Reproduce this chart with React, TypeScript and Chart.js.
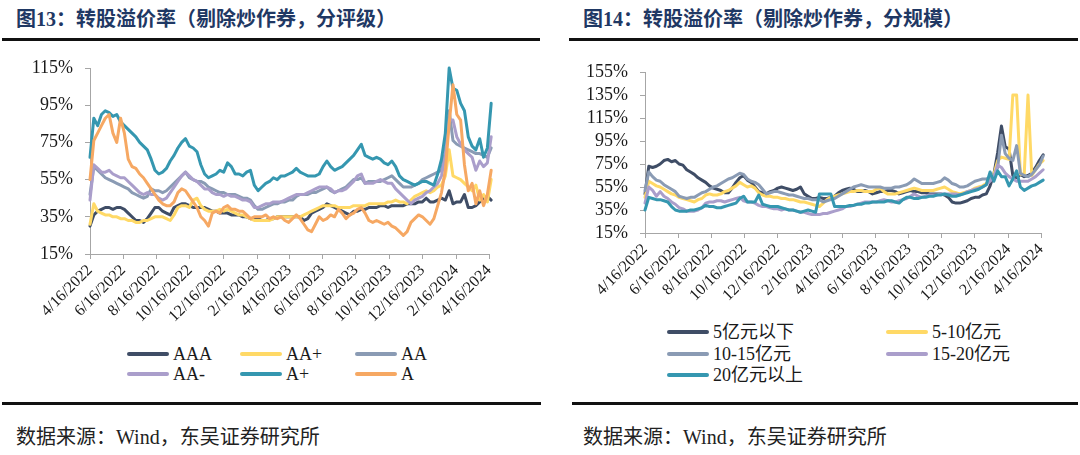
import { useEffect, useRef } from 'react';
import Chart from 'chart.js/auto';

// weekly observations
const dates = [
    '2022-04-16', '2022-04-23', '2022-04-30', '2022-05-07', '2022-05-14', '2022-05-21', '2022-05-28', '2022-06-04', '2022-06-11', '2022-06-18',
    '2022-06-25', '2022-07-02', '2022-07-09', '2022-07-16', '2022-07-23', '2022-07-30', '2022-08-06', '2022-08-13', '2022-08-20', '2022-08-27',
    '2022-09-03', '2022-09-10', '2022-09-17', '2022-09-24', '2022-10-01', '2022-10-08', '2022-10-15', '2022-10-22', '2022-10-29', '2022-11-05',
    '2022-11-12', '2022-11-19', '2022-11-26', '2022-12-03', '2022-12-10', '2022-12-17', '2022-12-24', '2022-12-31', '2023-01-07', '2023-01-14',
    '2023-01-21', '2023-01-28', '2023-02-04', '2023-02-11', '2023-02-18', '2023-02-25', '2023-03-04', '2023-03-11', '2023-03-18', '2023-03-25',
    '2023-04-01', '2023-04-08', '2023-04-15', '2023-04-22', '2023-04-29', '2023-05-06', '2023-05-13', '2023-05-20', '2023-05-27', '2023-06-03',
    '2023-06-10', '2023-06-17', '2023-06-24', '2023-07-01', '2023-07-08', '2023-07-15', '2023-07-22', '2023-07-29', '2023-08-05', '2023-08-12',
    '2023-08-19', '2023-08-26', '2023-09-02', '2023-09-09', '2023-09-16', '2023-09-23', '2023-09-30', '2023-10-07', '2023-10-14', '2023-10-21',
    '2023-10-28', '2023-11-04', '2023-11-11', '2023-11-18', '2023-11-25', '2023-12-02', '2023-12-09', '2023-12-16', '2023-12-23', '2023-12-30',
    '2024-01-06', '2024-01-13', '2024-01-20', '2024-01-27', '2024-02-03', '2024-02-10', '2024-02-17', '2024-02-24', '2024-03-02', '2024-03-09',
    '2024-03-16', '2024-03-23', '2024-03-30', '2024-04-06', '2024-04-13', '2024-04-20'
];

const tickDates = [
    '2022-04-16', '2022-06-16', '2022-08-16', '2022-10-16', '2022-12-16', '2023-02-16', '2023-04-16',
    '2023-06-16', '2023-08-16', '2023-10-16', '2023-12-16', '2024-02-16', '2024-04-16'
];
const tickLabels = [
    '4/16/2022', '6/16/2022', '8/16/2022', '10/16/2022', '12/16/2022', '2/16/2023', '4/16/2023',
    '6/16/2023', '8/16/2023', '10/16/2023', '12/16/2023', '2/16/2024', '4/16/2024'
];

// 图13 by rating (%)
const ratingNames = ['AAA', 'AA+', 'AA', 'AA-', 'A+', 'A'];
const aaa = [
    30, 36, 38, 39, 40, 40, 39, 40, 40, 39, 37, 35, 33, 33, 32, 34, 37, 40, 40, 38,
    37, 36, 40, 41, 42, 42, 41, 40, 40, 40, 40, 39, 38, 38, 37, 37, 37, 36, 36, 36,
    35, 35, 34, 34, 34, 33, 33,
    34, 34, 35, 35, 35, 35, 35, 35, 35, 33, 34, 37, 38, 39, 40, 42, 41, 40, 39, 38,
    37, 36, 38, 38, 39, 39, 40, 40, 40, 41, 41, 40, 41, 41, 41, 41, 42, 42, 42, 43,
    43, 45, 43, 43, 44, 45, 44, 49, 42, 43, 43, 47, 40, 40, 41, 43, 45, 46, 44
];
const aaPlus = [
    31, 42, 38, 37, 36, 36, 35, 35, 34, 34, 33, 33, 32, 32, 33, 33, 34, 35, 35, 35,
    34, 33, 36, 40, 41, 41, 40, 44, 45, 41, 39, 38, 38, 38, 39, 38, 39, 38, 37, 36,
    36, 35, 34, 33, 33, 33, 33,
    33, 34, 35, 35, 35, 35, 35, 35, 35, 36, 37, 38, 39, 40, 41, 41, 41, 41, 40, 40,
    40, 40, 41, 41, 41, 41, 42, 42, 42, 42, 42, 43, 43, 44, 43, 43, 42, 44, 46, 47,
    48, 49, 48, 49, 51, 52, 57, 71, 57, 56, 55, 53, 51, 49, 52, 44, 47, 43, 55
];
const aa = [
    47, 62, 60, 58, 56, 55, 54, 53, 52, 51, 50, 48, 47, 46, 45, 46, 50, 49, 49, 48,
    49, 51, 53, 55, 57, 59, 56, 55, 54, 54, 53, 51, 50, 49, 48, 48, 47, 47, 47, 46,
    45, 45, 44, 41, 39, 39, 40,
    41, 42, 42, 43, 43, 44, 44, 46, 47, 47, 47, 48, 48, 49, 50, 51, 49, 48, 49, 50,
    51, 53, 55, 55, 56, 53, 54, 54, 54, 54, 55, 56, 57, 55, 53, 51, 51, 51, 52, 53,
    55, 56, 57, 58, 59, 60, 70, 92, 76, 74, 73, 72, 71, 70, 69, 69, 68, 67, 72
];
const aaMinus = [
    44, 63, 61, 59, 59, 60, 58, 57, 56, 56, 54, 52, 50, 48, 47, 48, 47, 47, 45, 44,
    45, 48, 51, 54, 57, 59, 57, 55, 54, 52, 50, 50, 48, 47, 47, 46, 47, 46, 46, 45,
    44, 44, 43, 40, 40, 41, 42,
    42, 43, 43, 43, 44, 45, 46, 47, 47, 47, 48, 49, 50, 51, 51, 51, 50, 48, 49, 49,
    50, 52, 54, 57, 58, 53, 53, 53, 54, 55, 54, 53, 53, 50, 48, 46, 44, 42, 44, 45,
    46, 48, 49, 51, 53, 57, 68, 87, 87, 78, 74, 71, 69, 67, 60, 65, 62, 64, 78
];
const aPlus = [
    67, 88, 84, 90, 92, 91, 89, 90, 86, 84, 82, 80, 78, 75, 73, 71, 66, 60, 58, 59,
    61, 65, 68, 72, 75, 77, 73, 72, 70, 63, 58, 56, 57, 58, 60, 59, 64, 62, 58, 58,
    57, 59, 60, 52, 49, 51, 53,
    54, 56, 55, 57, 57, 58, 59, 61, 59, 58, 57, 57, 57, 58, 62, 65, 62, 60, 61, 62,
    64, 66, 68, 71, 74, 68, 67, 66, 67, 66, 64, 63, 65, 62, 57, 55, 54, 53, 52, 53,
    54, 54, 53, 52, 58, 66, 80, 115, 104, 103, 96, 92, 78, 73, 71, 77, 67, 72, 96
];
const aRating = [
    55, 76, 80, 84, 88, 90, 80, 75, 88, 80, 66, 62, 61, 58, 56, 53, 50, 47, 44, 42,
    41, 41, 43, 48, 50, 49, 46, 43, 40, 35, 33, 30, 37, 38, 37, 40, 41, 39, 39, 38,
    38, 36, 34, 35, 35, 35, 36,
    34, 35, 34, 35, 33, 32, 34, 36, 34, 31, 28, 27, 31, 35, 33, 34, 36, 35, 39, 37,
    34, 36, 37, 39, 40, 37, 33, 32, 33, 32, 31, 32, 30, 29, 27, 25, 27, 32, 34, 36,
    35, 33, 31, 34, 41, 48, 60, 85, 106, 90, 87, 63, 49, 53, 42, 49, 41, 47, 60
];

// 图14 by issue size (%)
const sizeNames = ['5亿元以下', '5-10亿元', '10-15亿元', '15-20亿元', '20亿元以上'];
const sizeUnder5 = [
    49, 73, 72, 73, 75, 78, 79, 77, 78, 75, 74, 70, 68, 66, 63, 61, 59, 56, 54, 53,
    52, 50, 50, 54, 59, 63, 65, 61, 59, 55, 51, 50, 49, 51, 52, 54, 55, 54, 53, 52,
    53, 55, 49, 47, 45, 45, 46,
    45, 45, 46, 47, 50, 52, 53, 54, 53, 51, 51, 52, 51, 49, 50, 51, 51, 52, 52, 51,
    49, 50, 51, 52, 51, 51, 50, 50, 49, 49, 49, 49, 48, 46, 42, 41, 41, 42, 43, 45,
    46, 46, 48, 49, 56, 66, 85, 108, 90, 88, 65, 63, 66, 64, 65, 67, 72, 78, 83
];
const size5to10 = [
    46, 60, 58, 56, 55, 53, 51, 49, 48, 46, 45, 44, 43, 42, 44, 45, 48, 49, 48, 48,
    49, 51, 52, 54, 56, 59, 57, 55, 56, 54, 50, 48, 47, 47, 46, 46, 45, 45, 44, 44,
    43, 42, 42, 41, 40, 39, 38,
    41, 44, 46, 47, 48, 49, 50, 51, 51, 52, 52, 51, 51, 51, 53, 54, 51, 49, 49, 49,
    50, 51, 52, 53, 54, 53, 52, 52, 52, 52, 53, 54, 55, 53, 51, 50, 49, 50, 51, 52,
    54, 55, 56, 58, 62, 66, 78, 81, 80, 79, 135, 135, 66, 66, 135, 65, 70, 75, 78
];
const size10to15 = [
    52, 68, 64, 61, 60, 57, 55, 53, 51, 47, 46, 45, 46, 46, 48, 50, 51, 53, 55, 56,
    58, 60, 62, 63, 65, 67, 66, 62, 60, 59, 57, 53, 49, 50, 51, 51, 50, 49, 48, 48,
    47, 46, 45, 45, 44, 44, 44,
    42, 43, 44, 45, 47, 49, 51, 53, 55, 56, 57, 56, 55, 55, 55, 55, 54, 54, 54, 55,
    55, 56, 57, 59, 62, 60, 58, 58, 58, 58, 59, 60, 63, 61, 58, 57, 55, 55, 56, 58,
    60, 61, 62, 62, 63, 64, 72, 100, 84, 80, 78, 91, 67, 65, 64, 66, 70, 74, 82
];
const size15to20 = [
    41, 55, 52, 47, 51, 47, 45, 42, 40, 37, 36, 34, 34, 34, 35, 37, 41, 42, 42, 43,
    43, 42, 43, 44, 45, 46, 43, 42, 42, 41, 39, 38, 38, 37, 36, 36, 35, 36, 35, 35,
    34, 33, 33, 32, 31, 31, 31,
    32, 32, 33, 34, 35, 36, 38, 38, 39, 40, 41, 42, 42, 42, 42, 43, 44, 43, 42, 42,
    43, 44, 45, 47, 49, 47, 46, 47, 48, 48, 48, 49, 49, 49, 49, 49, 48, 49, 51, 52,
    53, 54, 55, 57, 60, 64, 74, 72, 67, 64, 62, 60, 60, 60, 60, 62, 64, 67, 70
];
const sizeOver20 = [
    35, 46, 45, 44, 44, 43, 42, 38, 35, 34, 34, 34, 35, 35, 36, 37, 39, 38, 38, 37,
    37, 38, 39, 40, 41, 45, 47, 42, 42, 42, 48, 40, 39, 38, 38, 38, 37, 36, 35, 35,
    34, 33, 34, 35, 34, 33, 49,
    49, 49, 49, 38, 38, 38, 38, 39, 39, 40, 40, 41, 41, 42, 42, 42, 42, 43, 43, 42,
    41, 44, 46, 46, 45, 45, 46, 46, 47, 47, 48, 48, 49, 48, 47, 47, 48, 49, 50, 51,
    52, 53, 55, 57, 68, 60, 69, 64, 64, 56, 62, 69, 55, 52, 54, 56, 57, 59, 61
];

const palette = ['#3F4D66', '#FFD966', '#8A9BB4', '#AA9ECB', '#3597B0', '#F6A863'];

const serif = "'Liberation Serif', 'Times New Roman', 'Noto Sans CJK SC', serif";
const axisGray = '#A6A6A6';

const dayOf = (d: string) => (Date.parse(d) - Date.parse(dates[0])) / 86400000;
const days = dates.map(dayOf);
const tickDays = tickDates.map(dayOf);

interface Series {
    name: string;
    values: number[];
    color: string;
}

interface PanelProps {
    series: Series[];
    yMax: number;
    left: number;
    top: number;
    width: number;
    height: number;
    padding: { left: number; right: number; top: number; bottom: number };
}

function LinePanel({ series, yMax, left, top, width, height, padding }: PanelProps) {
    const canvasRef = useRef<HTMLCanvasElement>(null);

    useEffect(() => {
        if (!canvasRef.current) return;
        const n = series.length;
        const chart = new Chart(canvasRef.current, {
            type: 'line',
            data: {
                datasets: series.map((s, i) => ({
                    label: s.name,
                    data: days.map((d, j) => ({ x: d, y: s.values[j] })),
                    borderColor: s.color,
                    backgroundColor: s.color,
                    borderWidth: 3,
                    borderJoinStyle: 'round' as const,
                    borderCapStyle: 'round' as const,
                    pointRadius: 0,
                    tension: 0,
                    clip: false as const,
                    order: n - i
                }))
            },
            options: {
                animation: false,
                responsive: false,
                maintainAspectRatio: false,
                layout: { padding },
                plugins: {
                    legend: { display: false },
                    tooltip: { enabled: false }
                },
                scales: {
                    x: {
                        type: 'linear',
                        min: 0,
                        max: tickDays[tickDays.length - 1],
                        afterBuildTicks: (scale: any) => {
                            scale.ticks = tickDays.map((v) => ({ value: v }));
                        },
                        afterFit: (scale: any) => {
                            scale.height = 80;
                        },
                        ticks: {
                            autoSkip: false,
                            minRotation: 45,
                            maxRotation: 45,
                            padding: 2,
                            color: '#1a1a1a',
                            font: { family: serif, size: 16 },
                            callback: (_v: any, i: number) => tickLabels[i]
                        },
                        grid: { drawOnChartArea: false, drawTicks: true, tickLength: 5, color: axisGray },
                        border: { color: axisGray }
                    },
                    y: {
                        min: 15,
                        max: yMax,
                        afterFit: (scale: any) => {
                            scale.width = 60;
                        },
                        ticks: {
                            autoSkip: false,
                            stepSize: 20,
                            padding: 12,
                            color: '#1a1a1a',
                            font: { family: serif, size: 18 },
                            callback: (v: any) => v + '%'
                        },
                        grid: { drawOnChartArea: false, drawTicks: true, tickLength: 5, color: axisGray },
                        border: { color: axisGray }
                    }
                }
            }
        });

        return () => {
            chart.destroy();
        };
    }, [series, yMax]);

    return (
        <canvas
            ref={canvasRef}
            width={width}
            height={height}
            style={{ position: 'absolute', left, top, width: `${width}px`, height: `${height}px` }}
        />
    );
}

function LegendItem({ x, y, color, label }: { x: number; y: number; color: string; label: string }) {
    return (
        <div style={{ position: 'absolute', left: x, top: y, transform: 'translateY(-50%)', display: 'flex', alignItems: 'center', whiteSpace: 'nowrap' }}>
            <span style={{ display: 'inline-block', width: 42, height: 4, borderRadius: 2, background: color }} />
            <span style={{ marginLeft: 4, font: `18px ${serif}`, color: '#1a1a1a', lineHeight: '20px' }}>{label}</span>
        </div>
    );
}

const ratingSeries: Series[] = [aaa, aaPlus, aa, aaMinus, aPlus, aRating].map((values, i) => ({
    name: ratingNames[i],
    values,
    color: palette[i]
}));
const sizeSeries: Series[] = [sizeUnder5, size5to10, size10to15, size15to20, sizeOver20].map((values, i) => ({
    name: sizeNames[i],
    values,
    color: palette[i]
}));

const ratingLegendSpots = [[127, 354], [240, 354], [355, 354], [127, 374], [240, 374], [355, 374]];
const sizeLegendSpots = [[667, 332], [886, 332], [667, 354], [886, 354], [667, 375]];

const titleStyle = {
    position: 'absolute' as const,
    top: 8,
    font: `bold 20px ${serif}`,
    color: '#1F3864',
    lineHeight: '22px',
    whiteSpace: 'nowrap' as const
};
const footStyle = {
    position: 'absolute' as const,
    top: 426,
    font: `20px ${serif}`,
    color: '#222',
    lineHeight: '22px',
    whiteSpace: 'nowrap' as const
};
const rule = (left: number, width: number, top: number) => (
    <div style={{ position: 'absolute', left, width, top, height: 3, background: '#111' }} />
);

export default function App() {
    return (
        <div style={{ position: 'absolute', left: 0, top: 0, width: 1080, height: 455, background: '#fff', overflow: 'hidden' }}>
            <div style={{ ...titleStyle, left: 16 }}>图13：转股溢价率（剔除炒作券，分评级）</div>
            <div style={{ ...titleStyle, left: 583 }}>图14：转股溢价率（剔除炒作券，分规模）</div>
            {rule(2, 538, 38)}
            {rule(569, 509, 38)}

            <LinePanel
                series={ratingSeries}
                yMax={115}
                left={0}
                top={40}
                width={510}
                height={294}
                padding={{ left: 30, right: 21, top: 28, bottom: 0 }}
            />
            <LinePanel
                series={sizeSeries}
                yMax={155}
                left={555}
                top={40}
                width={506}
                height={273}
                padding={{ left: 30, right: 20, top: 32, bottom: 0 }}
            />

            {ratingSeries.map((s, i) => (
                <LegendItem key={s.name} x={ratingLegendSpots[i][0]} y={ratingLegendSpots[i][1]} color={s.color} label={s.name} />
            ))}
            {sizeSeries.map((s, i) => (
                <LegendItem key={s.name} x={sizeLegendSpots[i][0]} y={sizeLegendSpots[i][1]} color={s.color} label={s.name} />
            ))}

            {rule(2, 539, 402)}
            {rule(572, 506, 402)}
            <div style={{ ...footStyle, left: 16 }}>数据来源：Wind，东吴证券研究所</div>
            <div style={{ ...footStyle, left: 583 }}>数据来源：Wind，东吴证券研究所</div>
        </div>
    );
}
